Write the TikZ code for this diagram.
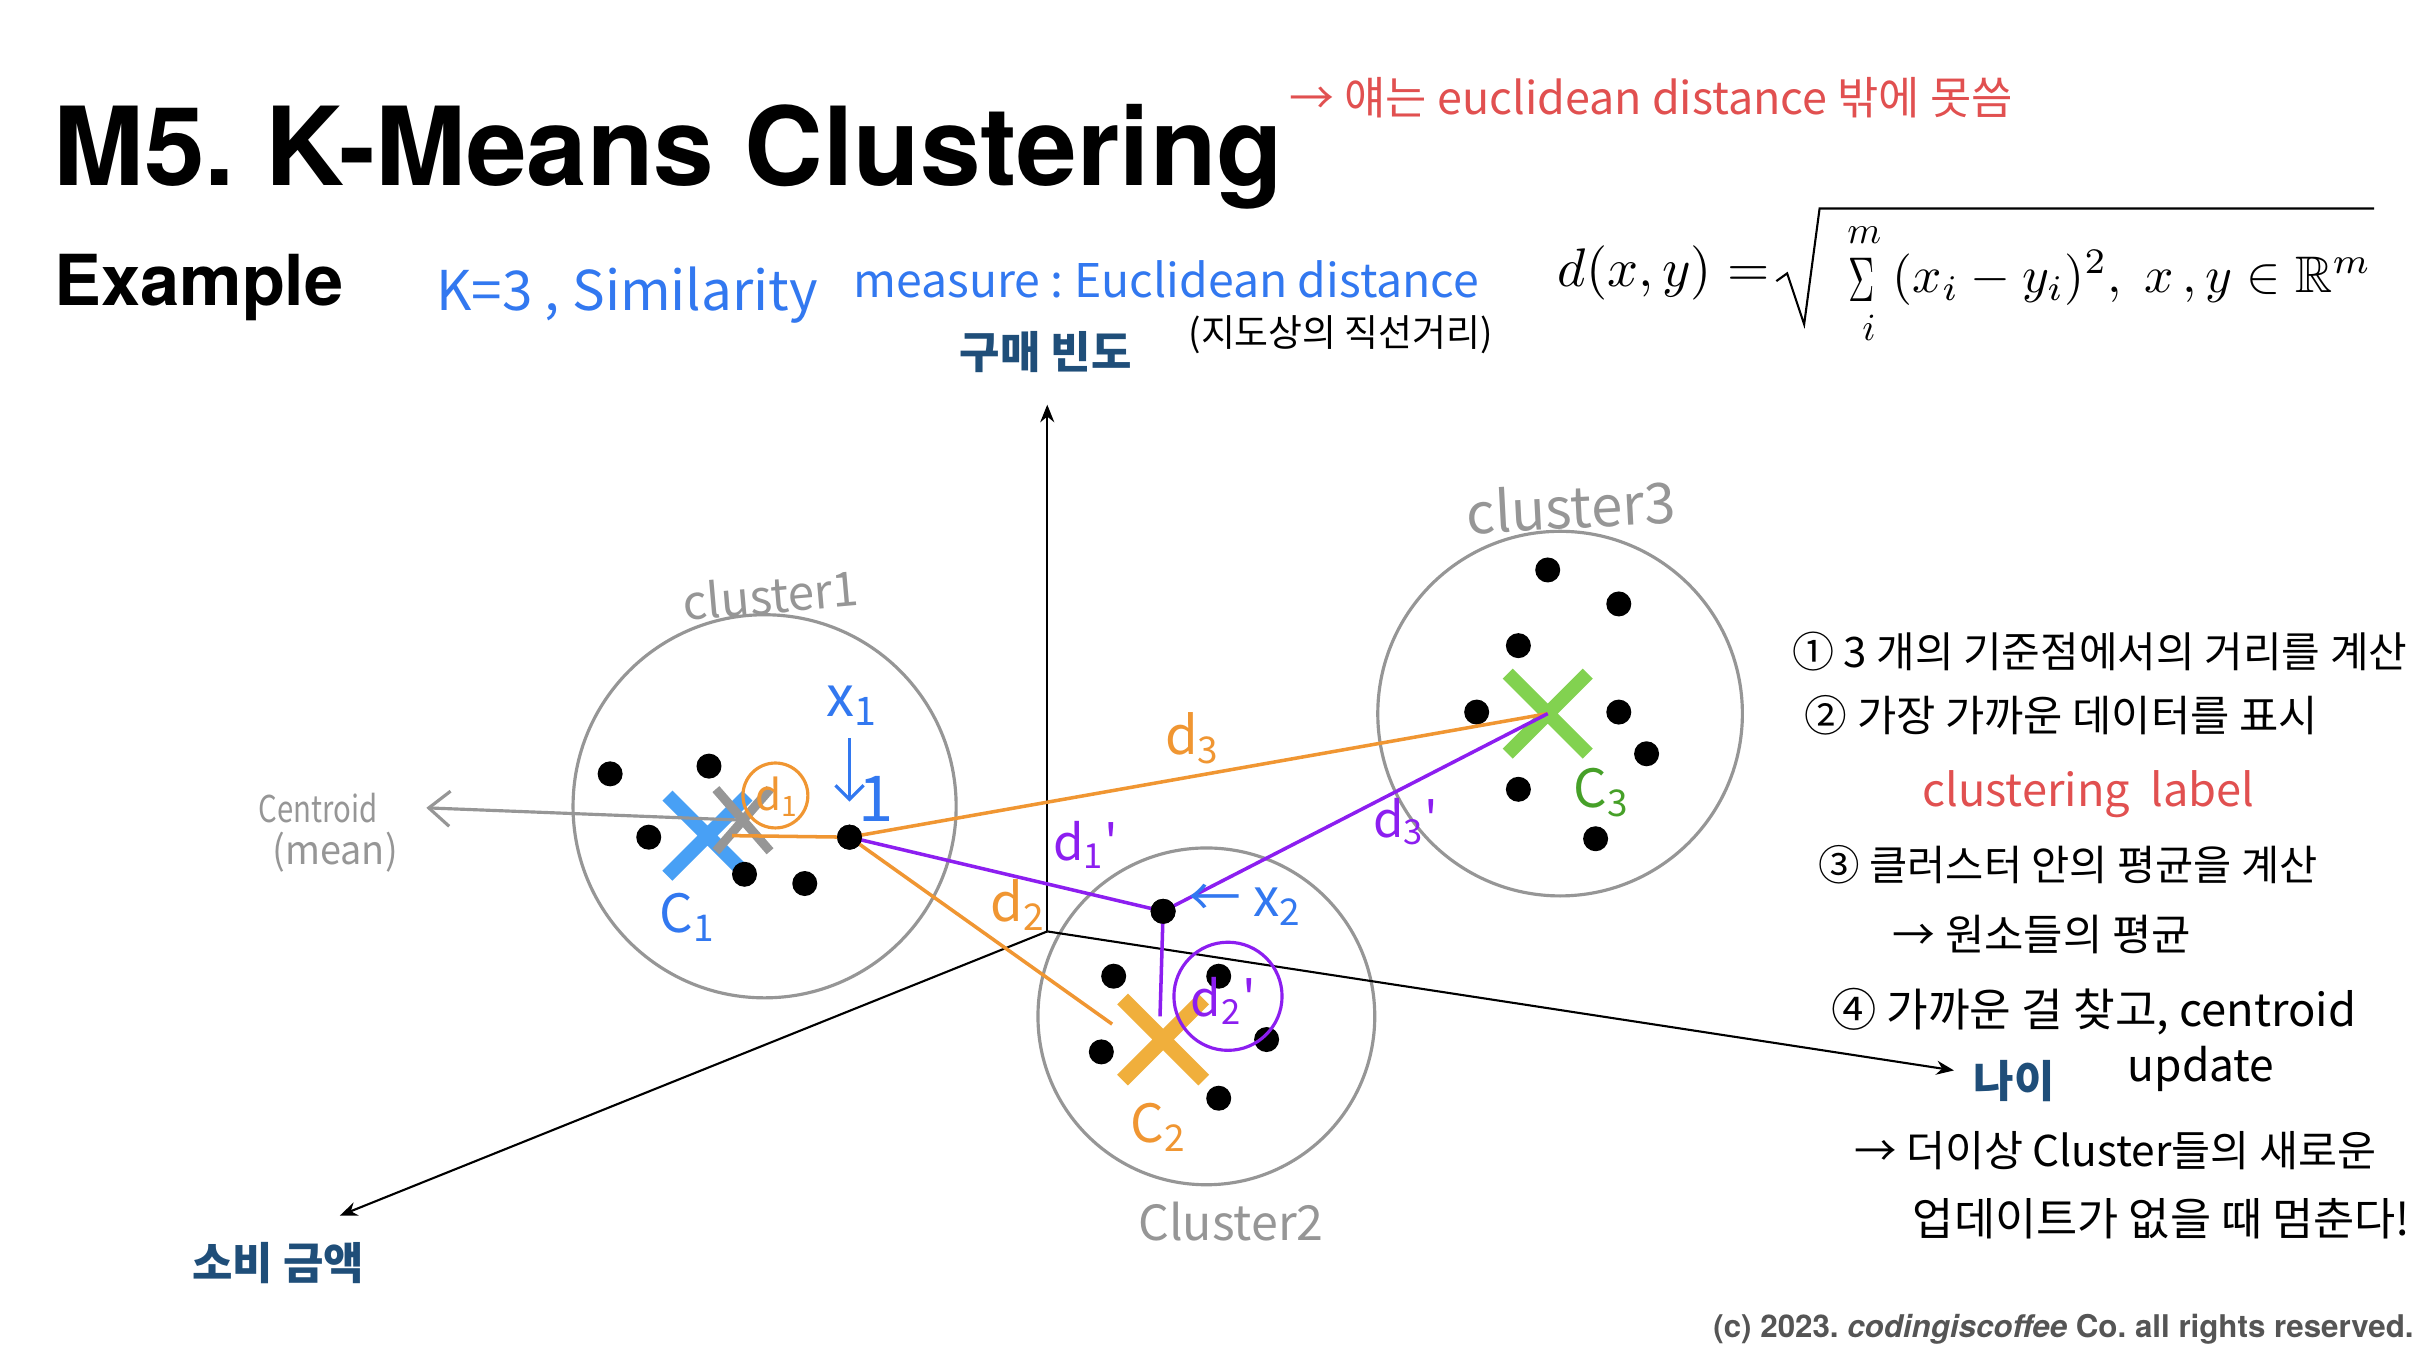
\documentclass[tikz,border=0pt]{standalone}
\usepackage{amsmath,amssymb}
\usepackage{fontspec}
\setmainfont{TeX Gyre Heros}
\newfontfamily\kr{Noto Sans CJK KR}
\usetikzlibrary{arrows.meta,shapes.misc}
\newlength\px \setlength\px{0.015446cm}
\newcommand\hw[2]{\resizebox{#1\px}{!}{#2}}
\newcommand\fs[1]{\fontsize{#1}{#1}\selectfont}
\definecolor{axlab}{RGB}{31,78,121}
\definecolor{cgray}{RGB}{150,150,150}
\definecolor{lorange}{RGB}{240,150,50}
\definecolor{lpurple}{RGB}{140,30,240}
\definecolor{tblue}{RGB}{50,120,240}
\definecolor{xblue}{RGB}{72,160,245}
\definecolor{xorange}{RGB}{240,175,60}
\definecolor{xgreen}{RGB}{130,210,80}
\definecolor{tgreen}{RGB}{70,160,40}
\definecolor{tred}{RGB}{225,80,80}
\definecolor{copyg}{RGB}{85,85,85}
\frenchspacing
\begin{document}
\begin{tikzpicture}[x=0.015446cm,y=-0.015446cm,
  dot/.style={circle, fill=black, inner sep=0pt, minimum size=0.25cm},
  cmark/.style={cross out, draw, inner sep=0pt, minimum size=0.66cm, line width=4pt},
  clus/.style={circle, draw=cgray, line width=0.9pt, inner sep=0pt},
  axis/.style={line width=0.6pt, -{Stealth[length=5pt,width=4pt]}},
  hand/.style={font=\kr\fs{12}, inner sep=0pt},
  axlabel/.style={font=\kr\bfseries\fs{12.5}, text=axlab, inner sep=0pt},
  oline/.style={draw=lorange, line width=1pt},
  pline/.style={draw=lpurple, line width=1pt},
  barb/.style={-{Straight Barb[length=4pt,width=8pt]}}
]
\fill[white] (0,0) rectangle (1568,880);
\useasboundingbox (0,0) rectangle (1568,880);

% titles
\node[anchor=base west, inner sep=0pt, font=\bfseries\fs{31}] (title) at (34,120) {M5. K-Means Clustering};
\node[anchor=base west, inner sep=0pt, font=\bfseries\fs{20}] (example) at (35,198) {Example};
\node[anchor=base east, inner sep=0pt, font=\bfseries\fs{8.9}, text=copyg] (copy) at (1563,866) {(c) 2023. \textit{codingiscoffee} Co. all rights reserved.};

% top handwritten notes
\node[hand, text=tred] (note) at (1069,63) {\hw{468}{→ 얘는 euclidean distance 밖에 못씀}};
\node[hand, text=tblue] (kval) at (406,191) {\hw{247}{K=3 , Similarity}};
\node[hand, text=tblue] (meas) at (755,181) {\hw{405}{measure : Euclidean distance}};
\node[hand] (paren) at (868,217) {\resizebox{197\px}{20\px}{(지도상의 직선거리)}};

% formula
\node[inner sep=0pt] (dxy) at (1077,177) {\hw{137}{$d(x,y)=$}};
\node[inner sep=0pt] (sigma) at (1205,181) {\resizebox{17\px}{28\px}{$\Sigma$}};
\node[inner sep=0pt, font=\fs{11}] (sigm) at (1207,152) {$m$};
\node[inner sep=0pt, font=\fs{11}] (sigi) at (1210,212) {$i$};
\node[inner sep=0pt, anchor=west] (sumpart) at (1225,180) {\hw{310}{$(x_i-y_i)^2,\; x\,,y\in\mathbb{R}^m$}};
\draw[line width=0.6pt] (1150,182) -- (1157,177) -- (1168,210) -- (1178,135) -- (1537,135);

% clusters
\node[clus, minimum size=3.83cm] (cl1) at (495,522) {};
\node[clus, minimum size=3.367cm] (cl2) at (781,658) {};
\node[clus, minimum size=3.645cm] (cl3) at (1010,462) {};
\node[hand, text=cgray, rotate=5] (cl1lab) at (499,385) {\hw{114}{cluster1}};
\node[hand, text=cgray] (cl2lab) at (797,791) {\hw{120}{Cluster2}};
\node[hand, text=cgray, rotate=3] (cl3lab) at (1017,328) {\hw{135}{cluster3}};

% axes
\coordinate (O) at (678,603);
\coordinate (ytip) at (678,262);
\coordinate (xtip) at (1265,693);
\coordinate (ztip) at (220,787);
\draw[axis] (O) -- (ytip);
\draw[axis] (O) -- (xtip);
\draw[axis] (O) -- (ztip);
\node[axlabel] (ylab) at (677,228) {구매 빈도};
\node[axlabel] (xlab) at (1304,700) {나이};
\node[axlabel] (zlab) at (180,818) {소비 금액};

% centroid marks
\node[cmark, draw=xblue] (c1) at (458,541) {};
\node[cmark, draw=xorange, line width=4.3pt] (c2) at (753,673) {};
\node[cmark, draw=xgreen] (c3) at (1002,462) {};
\node[cmark, draw=cgray, minimum width=0.45cm, minimum height=0.53cm, line width=2.6pt] (c1old) at (481,531) {};

% data points
\node[dot] (p11) at (395,501) {};
\node[dot] (p12) at (459,496) {};
\node[dot] (p13) at (420,542) {};
\node[dot] (p14) at (482,566) {};
\node[dot] (p15) at (521,572) {};
\node[dot] (x1) at (550,542) {};
\node[dot] (p21) at (721,632) {};
\node[dot] (p22) at (789,632) {};
\node[dot] (p23) at (713,681) {};
\node[dot] (p24) at (820,673) {};
\node[dot] (p25) at (789,711) {};
\node[dot] (x2) at (753,590) {};
\node[dot] (p31) at (1002,369) {};
\node[dot] (p32) at (1048,391) {};
\node[dot] (p33) at (983,418) {};
\node[dot] (p34) at (956,461) {};
\node[dot] (p35) at (1048,461) {};
\node[dot] (p36) at (1066,488) {};
\node[dot] (p37) at (983,511) {};
\node[dot] (p38) at (1033,543) {};

% distance lines
\coordinate (d1s) at (474,541);
\coordinate (d2e) at (720,663);
\coordinate (p2e) at (751,658);
\draw[oline] (d1s) -- (x1.center);
\draw[oline] (x1.center) -- (c3.center);
\draw[oline] (x1.center) -- (d2e);
\draw[pline] (x1.center) -- (x2.center);
\draw[pline] (x2.center) -- (c3.center);
\draw[pline] (x2.center) -- (p2e);
\node[dot] at (x1) {};
\node[dot] at (x2) {};

% helper circles
\node[circle, draw=lorange, line width=0.9pt, minimum size=0.649cm, inner sep=0pt] (d1c) at (502,515) {};
\node[circle, draw=lpurple, line width=0.9pt, minimum size=1.081cm, inner sep=0pt] (d2c) at (795,645) {};

% centroid pointer
\coordinate (centtip) at (276,523);
\draw[draw=cgray, line width=0.9pt, -{Straight Barb[length=6pt,width=10pt]}] (c1old.center) -- (centtip);
\node[hand, text=cgray] (centlab) at (206,523) {\resizebox{77\px}{19\px}{Centroid}};
\node[hand, text=cgray] (meanlab) at (217,552) {\resizebox*{81\px}{26\px}{(mean)}};

% labels
\node[hand, text=tblue, font=\kr\fs{16}] (x1lab) at (552,457) {x\textsubscript{1}};
\coordinate (a1s) at (550,478);
\coordinate (a1e) at (550,519);
\draw[tblue, line width=0.9pt, barb] (a1s) -- (a1e);
\node[hand, text=tblue, font=\kr\fs{18}] (one) at (567,517) {1};
\node[hand, text=tblue, font=\kr\fs{15}] (c1lab) at (445,594) {C\textsubscript{1}};
\node[hand, text=lorange, font=\kr\fs{12}] (d1lab) at (503,516) {d\textsubscript{1}};
\node[hand, text=lorange, font=\kr\fs{15}] (d3lab) at (772,478) {d\textsubscript{3}};
\node[hand, text=lorange, font=\kr\fs{15}] (d2lab) at (659,586) {d\textsubscript{2}};
\node[hand, text=lpurple, font=\kr\fs{14}] (d1plab) at (703,547) {d\textsubscript{1}'};
\node[hand, text=lpurple, font=\kr\fs{14}] (d3plab) at (910,532) {d\textsubscript{3}'};
\node[hand, text=lpurple, font=\kr\fs{14}] (d2plab) at (792,648) {d\textsubscript{2}'};
\node[hand, text=tblue, font=\kr\fs{15}] (x2lab) at (806,586) {← x\textsubscript{2}};
\node[hand, text=lorange, font=\kr\fs{15}] (c2lab) at (750,730) {C\textsubscript{2}};
\node[hand, text=tgreen, font=\kr\fs{15}] (c3lab) at (1037,513) {C\textsubscript{3}};

% right-side steps
\node[hand, anchor=west] (s1) at (1160,422) {\hw{398}{① 3 개의 기준점에서의 거리를 계산}};
\node[hand, anchor=west] (s2) at (1168,463) {\hw{332}{② 가장 가까운 데이터를 표시}};
\node[hand, text=tred] (s2r) at (1352,514) {\hw{215}{clustering \ label}};
\node[hand, anchor=west] (s3) at (1177,560) {\hw{323}{③ 클러스터 안의 평균을 계산}};
\node[hand, anchor=west] (s3b) at (1225,605) {\hw{193}{→ 원소들의 평균}};
\node[hand, anchor=west] (s4) at (1185,655) {\hw{340}{④ 가까운 걸 찾고, centroid}};
\node[hand] (s4b) at (1425,692) {\hw{95}{update}};
\node[hand, anchor=west] (s5) at (1200,745) {\hw{338}{→ 더이상 Cluster들의 새로운}};
\node[hand, anchor=west] (s6) at (1238,789) {\hw{322}{업데이트가 없을 때 멈춘다!}};
\end{tikzpicture}
\end{document}
